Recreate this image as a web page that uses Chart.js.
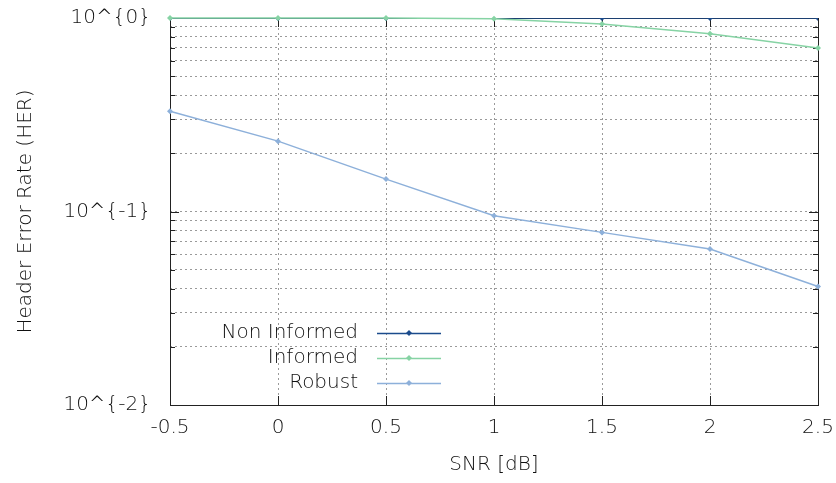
<!DOCTYPE html>
<html>
<head>
<meta charset="utf-8">
<script src="https://cdn.jsdelivr.net/npm/chart.js@4/dist/chart.umd.min.js"></script>
<style>
  html, body { margin: 0; padding: 0; background: #fff; }
  #wrap { width: 836px; height: 483px; }
</style>
</head>
<body>
<div id="wrap"><canvas id="myChart" width="836" height="483"></canvas></div>
<script>
// valeurs
const snr = [-0.5, 0, 0.5, 1, 1.5, 2, 2.5];
const nonInformed = [1, 1, 1, 1, 1, 1, 1];
const informed = [1, 1, 1, 0.99, 0.93, 0.83, 0.70];
const robust = [0.33, 0.231, 0.147, 0.095, 0.078, 0.064, 0.041];
const xTicks = [-0.5, 0, 0.5, 1, 1.5, 2, 2.5];
const yDecades = [0.01, 0.1, 1];
const yLabels = ['10^{-2}', '10^{-1}', '10^{0}'];

const FONT = 'DejaVu Sans';
const FSIZE = 20;
const FWEIGHT = '200';
const TXT = '#111';
const colors = { non: '#1b4b8c', inf: '#86d3a4', rob: '#8db0da' };

// ticks mineurs 0.01..0.09, 0.1..0.9, 1
const yTickValues = [];
for (let d = 0; d < yDecades.length - 1; d++) {
    for (let k = 1; k < 10; k++) yTickValues.push(+(yDecades[d] * k).toPrecision(3));
}
yTickValues.push(yDecades[yDecades.length - 1]);

const pts = arr => arr.map((v, i) => ({ x: snr[i], y: v }));
const font = { family: FONT, size: FSIZE, weight: FWEIGHT };

// cadre + graduations vers l'intérieur
const framePlugin = {
    id: 'frame',
    beforeDatasetsDraw(chart) {
        const { ctx, chartArea: a, scales } = chart;
        ctx.save();
        ctx.strokeStyle = '#222';
        ctx.lineWidth = 1;
        ctx.strokeRect(a.left + 0.5, a.top + 0.5, a.right - a.left, a.bottom - a.top);
        ctx.beginPath();
        scales.y.ticks.forEach(t => {
            const py = Math.round(scales.y.getPixelForValue(t.value)) + 0.5;
            const len = yDecades.includes(t.value) ? 9 : 5;
            ctx.moveTo(a.left, py); ctx.lineTo(a.left + len, py);
            ctx.moveTo(a.right, py); ctx.lineTo(a.right - len, py);
        });
        scales.x.ticks.forEach(t => {
            const px = Math.round(scales.x.getPixelForValue(t.value)) + 0.5;
            ctx.moveTo(px, a.bottom); ctx.lineTo(px, a.bottom - 9);
            ctx.moveTo(px, a.top); ctx.lineTo(px, a.top + 9);
        });
        ctx.stroke();
        ctx.restore();
    }
};

// légende façon gnuplot, en bas à gauche
const legendPlugin = {
    id: 'gpLegend',
    afterDatasetsDraw(chart) {
        const { ctx, chartArea: a } = chart;
        const textRight = a.left + 188;
        const lineX0 = a.left + 207, lineX1 = a.left + 271;
        ctx.save();
        ctx.font = FWEIGHT + ' ' + FSIZE + 'px "' + FONT + '"';
        ctx.textAlign = 'right';
        ctx.textBaseline = 'middle';
        chart.data.datasets.forEach((ds, i) => {
            const y = a.bottom - 72 + i * 25;
            ctx.fillStyle = TXT;
            ctx.fillText(ds.label, textRight, y);
            ctx.strokeStyle = ds.borderColor;
            ctx.lineWidth = 1.5;
            ctx.beginPath();
            ctx.moveTo(lineX0, y + 0.5); ctx.lineTo(lineX1, y + 0.5);
            ctx.stroke();
            const mx = (lineX0 + lineX1) / 2;
            ctx.fillStyle = ds.borderColor;
            ctx.beginPath();
            ctx.moveTo(mx, y - 3); ctx.lineTo(mx + 3, y); ctx.lineTo(mx, y + 3); ctx.lineTo(mx - 3, y);
            ctx.closePath();
            ctx.fill();
        });
        ctx.restore();
    }
};

const serie = (label, data, color, order, clip) => ({
    label: label,
    data: pts(data),
    borderColor: color,
    backgroundColor: color,
    borderWidth: 1.5,
    pointStyle: 'rectRot',
    pointRadius: 3,
    pointBorderWidth: 0,
    clip: clip,
    order: order
});

new Chart(document.getElementById('myChart'), {
    type: 'line',
    data: {
        datasets: [
            serie('Non Informed', nonInformed, colors.non, 3, 0),
            serie('Informed', informed, colors.inf, 1, false),
            serie('Robust', robust, colors.rob, 2, false)
        ]
    },
    plugins: [framePlugin, legendPlugin],
    options: {
        responsive: false,
        animation: false,
        layout: { padding: { top: 18, right: 18, left: 0, bottom: 0 } },
        plugins: { legend: { display: false }, tooltip: { enabled: false } },
        scales: {
            x: {
                type: 'linear',
                min: -0.5,
                max: 2.5,
                afterBuildTicks: s => { s.ticks = xTicks.map(v => ({ value: v })); },
                afterFit: s => { s.height = 78; s.paddingLeft = 0; s.paddingRight = 0; },
                grid: { color: '#9a9a9a', drawTicks: false, lineWidth: 1 },
                border: { display: false, dash: [2, 3] },
                ticks: {
                    padding: 11,
                    color: TXT,
                    font: font,
                    maxRotation: 0,
                    callback: v => String(v)
                },
                title: {
                    display: true,
                    text: 'SNR [dB]',
                    color: TXT,
                    font: font,
                    padding: { top: 0, bottom: 6 }
                }
            },
            y: {
                type: 'logarithmic',
                min: 0.01,
                max: 1,
                afterBuildTicks: s => { s.ticks = yTickValues.map(v => ({ value: v })); },
                afterFit: s => { s.width = 170; s.paddingTop = 0; s.paddingBottom = 0; },
                grid: { color: '#9a9a9a', drawTicks: false, lineWidth: 1 },
                border: { display: false, dash: [2, 3] },
                ticks: {
                    padding: 19,
                    color: TXT,
                    autoSkip: false,
                    font: font,
                    callback: v => {
                        const i = yDecades.indexOf(v);
                        return i >= 0 ? yLabels[i] : '';
                    }
                },
                title: {
                    display: true,
                    text: 'Header Error Rate (HER)',
                    color: TXT,
                    font: font,
                    padding: { top: 14, bottom: 0 }
                }
            }
        }
    }
});
</script>
</body>
</html>
